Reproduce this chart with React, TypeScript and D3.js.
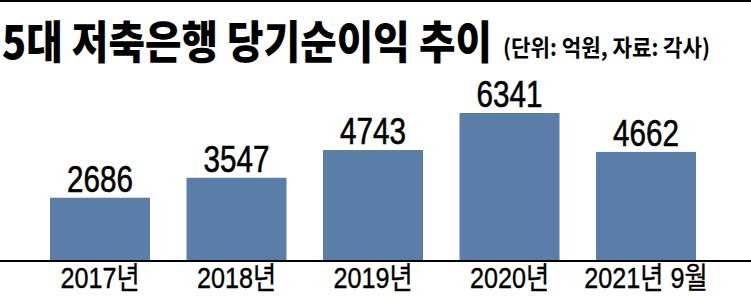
import React, { useLayoutEffect, useRef, useState } from "react";
import * as d3 from "d3";

const categories = ["2017년", "2018년", "2019년", "2020년", "2021년 9월"];
const values = [2686, 3547, 4743, 6341, 4662];
const titleText = "5대 저축은행 당기순이익 추이";
const subtitleText = "(단위: 억원, 자료: 각사)";

const W = 751;
const H = 296;
const BASE = 260;
const TITLE_W = 490;
const SUB_W = 207;

export default function App() {
  const titleRef = useRef<SVGTextElement>(null);
  const subRef = useRef<SVGTextElement>(null);
  const [sx, setSx] = useState({ t: 0.85, s: 0.85 });
  useLayoutEffect(() => {
    const t = titleRef.current ? titleRef.current.getComputedTextLength() : 0;
    const s = subRef.current ? subRef.current.getComputedTextLength() : 0;
    setSx({ t: t > 0 ? TITLE_W / t : 0.85, s: s > 0 ? SUB_W / s : 0.85 });
  }, []);
  const x = d3
    .scaleBand<string>()
    .domain(categories)
    .range([13.5, 732.5])
    .paddingInner(0.2674)
    .paddingOuter(0.2674);
  const y = d3.scaleLinear().domain([0, 6341]).range([BASE, 113]);
  const latin = "'Liberation Sans', Arial, 'Noto Sans CJK KR', sans-serif";
  const cjk = "'Noto Sans CJK KR', sans-serif";
  return (
    <svg
      width={W}
      height={H}
      style={{ position: "absolute", left: 0, top: 0, background: "#fff" }}
    >
      <rect x={0} y={0} width={W} height={H} fill="#fff" />
      <rect x={0} y={0} width={W} height={2} fill="#000" />
      <text
        ref={titleRef}
        transform={`translate(2,59) scale(${sx.t},1)`}
        fontFamily={cjk}
        fontWeight={900}
        fontSize={45}
        fill="#000"
      >
        {titleText}
      </text>
      <text
        ref={subRef}
        transform={`translate(503,56) scale(${sx.s},1)`}
        fontFamily={cjk}
        fontWeight={700}
        fontSize={23}
        fill="#000"
      >
        {subtitleText}
      </text>
      {categories.map((c, i) => {
        const bx = x(c)!;
        const cx = bx + x.bandwidth() / 2;
        const top = y(values[i]);
        return (
          <g key={c}>
            <rect
              x={bx}
              y={top}
              width={x.bandwidth()}
              height={BASE - top}
              fill="#5a7ea7"
            />
            <text
              transform={`translate(${cx},${top - 6}) scale(0.8,1)`}
              textAnchor="middle"
              fontFamily={latin}
              fontSize={37}
              stroke="#000"
              strokeWidth={0.6}
              fill="#000"
            >
              {values[i]}
            </text>
            <text
              transform={`translate(${cx},288) scale(0.84,1)`}
              textAnchor="middle"
              fontFamily={latin}
              fontSize={30}
              stroke="#000"
              strokeWidth={0.4}
              fill="#000"
            >
              {c}
            </text>
          </g>
        );
      })}
      <line x1={0} x2={W} y1={BASE + 1} y2={BASE + 1} stroke="#000" strokeWidth={2} />
    </svg>
  );
}
